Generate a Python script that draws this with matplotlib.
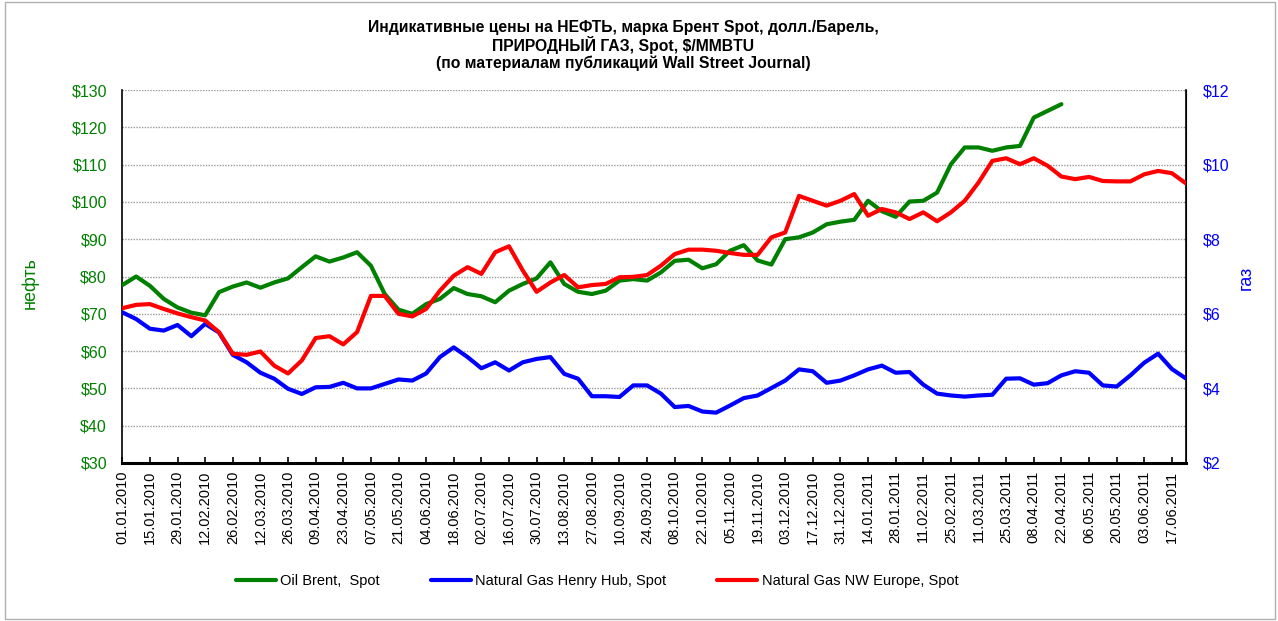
import matplotlib
matplotlib.use("Agg")
import matplotlib.pyplot as plt
import pandas as pd
from matplotlib.patches import Rectangle

# ---- data (weekly, from 01.01.2010) ----
start_date = "2010-01-01"
n_weeks = 78

oil_brent = [77.7, 80.0, 77.5, 74.0, 71.7, 70.3, 69.6, 75.8, 77.3, 78.4,
             77.0, 78.4, 79.5, 82.5, 85.4, 84.0, 85.1, 86.5, 82.9, 75.3,
             71.1, 70.0, 72.6, 74.0, 76.9, 75.3, 74.7, 73.1, 76.2, 78.0,
             79.5, 83.8, 78.0, 75.9, 75.3, 76.2, 78.9, 79.3, 78.9, 81.1,
             84.2, 84.5, 82.2, 83.3, 86.9, 88.4, 84.3, 83.2, 90.0, 90.5,
             91.8, 94.0, 94.7, 95.2, 100.3, 97.5, 96.0, 100.1, 100.3, 102.5,
             110.1, 114.6, 114.6, 113.7, 114.6, 115.0, 122.6, 124.4, 126.2]

gas_henry_hub = [6.04, 5.86, 5.60, 5.55, 5.70, 5.40, 5.73, 5.50, 4.90, 4.70,
                 4.42, 4.26, 3.99, 3.85, 4.03, 4.04, 4.15, 4.00, 4.00, 4.12,
                 4.24, 4.21, 4.40, 4.84, 5.10, 4.84, 4.54, 4.70, 4.48, 4.70,
                 4.79, 4.84, 4.39, 4.26, 3.79, 3.79, 3.77, 4.08, 4.08, 3.86,
                 3.50, 3.53, 3.38, 3.35, 3.54, 3.74, 3.81, 4.01, 4.21, 4.51,
                 4.46, 4.15, 4.21, 4.35, 4.51, 4.61, 4.42, 4.44, 4.10, 3.86,
                 3.81, 3.78, 3.81, 3.83, 4.26, 4.27, 4.10, 4.14, 4.35, 4.46,
                 4.42, 4.08, 4.05, 4.35, 4.69, 4.93, 4.52, 4.27]

gas_nw_europe = [6.15, 6.24, 6.26, 6.13, 6.01, 5.91, 5.82, 5.51, 4.93, 4.90,
                 4.99, 4.61, 4.40, 4.75, 5.35, 5.40, 5.18, 5.51, 6.48, 6.48,
                 6.00, 5.93, 6.13, 6.62, 7.02, 7.25, 7.07, 7.65, 7.81, 7.16,
                 6.59, 6.84, 7.04, 6.71, 6.77, 6.80, 6.98, 6.99, 7.04, 7.29,
                 7.60, 7.72, 7.72, 7.69, 7.63, 7.58, 7.58, 8.05, 8.18, 9.16,
                 9.03, 8.90, 9.03, 9.21, 8.63, 8.81, 8.72, 8.54, 8.72, 8.48,
                 8.72, 9.03, 9.52, 10.10, 10.17, 10.01, 10.17, 9.97, 9.68, 9.61,
                 9.67, 9.56, 9.55, 9.55, 9.74, 9.83, 9.77, 9.50]

oil_ticks = [30, 40, 50, 60, 70, 80, 90, 100, 110, 120, 130]
gas_ticks = [2, 4, 6, 8, 10, 12]

series_labels = ["Oil Brent,  Spot", "Natural Gas Henry Hub, Spot",
                 "Natural Gas NW Europe, Spot"]
title_text = ("Индикативные цены на НЕФТЬ, марка Брент Spot, долл./Барель,\n"
              "ПРИРОДНЫЙ ГАЗ, Spot, $/MMBTU\n"
              "(по материалам публикаций Wall Street Journal)")

dates = pd.date_range(start_date, periods=n_weeks, freq="7D")

# ---- figure ----
W, H = 1278, 621
fig = plt.figure(figsize=(W / 100, H / 100), dpi=100)
fig.patch.set_facecolor("white")
fig.patches.append(Rectangle((5 / W, 2 / H), 1 - 8 / W, 1 - 4 / H,
                             transform=fig.transFigure, fill=False,
                             edgecolor="#b0b0b0", linewidth=1.0))

L, R, T, B = 122.3, 1185.7, 90, 463
ax = fig.add_axes([L / W, 1 - B / H, (R - L) / W, (B - T) / H])
ax2 = ax.twinx()

GREEN = "#008000"
BLUE = "#0000ff"
RED = "#ff0000"
font = ["Liberation Sans", "DejaVu Sans"]

l1, = ax.plot(dates[:len(oil_brent)], oil_brent, color=GREEN, lw=3.0,
              solid_joinstyle="round", solid_capstyle="round", zorder=3)
l2, = ax2.plot(dates, gas_henry_hub, color=BLUE, lw=3.0,
               solid_joinstyle="round", solid_capstyle="round", zorder=3)
l3, = ax2.plot(dates, gas_nw_europe, color=RED, lw=3.0,
               solid_joinstyle="round", solid_capstyle="round", zorder=3)

ax.set_xlim(dates[0], dates[-1])
ax.set_ylim(30, 130)
ax2.set_ylim(2, 12)

ax.set_yticks(oil_ticks)
ax.set_yticklabels([f"${v}" for v in oil_ticks], color=GREEN,
                   fontsize=11.5, family=font)
ax2.set_yticks(gas_ticks)
ax2.set_yticklabels([f"${v}" for v in gas_ticks], color=BLUE,
                    fontsize=11.5, family=font)
ax.tick_params(axis="y", length=0, pad=11)
ax2.tick_params(axis="y", length=0, pad=12.5)

ax.set_xticks(dates[::2])
ax.set_xticklabels([d.strftime("%d.%m.%Y") for d in dates[::2]],
                   rotation=90, fontsize=10.5, family=font)
ax.tick_params(axis="x", direction="in", length=4, width=1.2, pad=5.5,
               color="black")

ax.grid(axis="y", color="#9a9a9a", linestyle=(0, (1, 1)), linewidth=1.0)
ax.set_axisbelow(True)

for a in (ax, ax2):
    a.spines["top"].set_visible(False)
ax.spines["left"].set_linewidth(1.2)
ax.spines["bottom"].set_linewidth(2.2)
ax2.spines["right"].set_linewidth(1.2)
ax2.spines["left"].set_visible(False)
ax2.spines["bottom"].set_visible(False)

fig.text(30 / W, 1 - 283 / H, "нефть", rotation=90, color=GREEN,
         fontsize=13, family=font, ha="center", va="center")
fig.text(1246 / W, 1 - 278 / H, "газ", rotation=90, color=BLUE,
         fontsize=13, family=font, ha="center", va="center")

fig.text(623 / W, 1 - 45.5 / H, title_text, ha="center", va="center",
         fontsize=11.3, fontweight="bold", linespacing=1.12,
         family=["Liberation Sans", "DejaVu Sans"])

fig.legend([l1, l2, l3], series_labels, loc="center",
           bbox_to_anchor=(597 / W, 1 - 581 / H), ncol=3, frameon=False,
           prop={"family": font, "size": 10.5}, handlelength=2.75,
           handletextpad=0.3, columnspacing=3.5)

fig.savefig("out.png", dpi=100)
